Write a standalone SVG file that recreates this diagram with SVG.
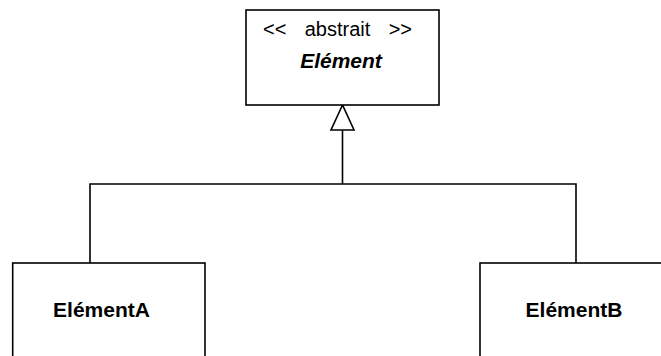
<svg xmlns="http://www.w3.org/2000/svg" width="661" height="356" viewBox="0 0 661 356">
<style>
.box{fill:#fff;stroke:#000;stroke-width:1.6}
.ln{fill:none;stroke:#000;stroke-width:1.6}
.t{font-family:"Liberation Sans",Arial,sans-serif;font-size:20px;fill:#000}
.b{font-weight:bold;font-size:21px}
</style>
<rect width="661" height="356" fill="#fff"/>
<g id="connectors">
<polyline class="ln" points="90,263 90,184 576,184 576,263"/>
<line class="ln" x1="342.5" y1="130" x2="342.5" y2="184"/>
<polygon class="ln" fill="#fff" points="342.5,105 331,130 354,130"/>
</g>
<g id="Element">
<rect class="box" x="246" y="10" width="193" height="95"/>
<text class="t" x="263" y="36">&lt;&lt;</text>
<text class="t" x="337.5" y="36" text-anchor="middle">abstrait</text>
<text class="t" x="412" y="36" text-anchor="end">&gt;&gt;</text>
<text class="t b" x="341" y="68" text-anchor="middle" font-style="italic">Elément</text>
</g>
<g id="ElementA">
<rect class="box" x="12.7" y="263" width="192.3" height="110"/>
<text class="t b" x="101.5" y="317" text-anchor="middle">ElémentA</text>
</g>
<g id="ElementB">
<rect class="box" x="480" y="263" width="200" height="110"/>
<text class="t b" x="574" y="317" text-anchor="middle">ElémentB</text>
</g>
</svg>
